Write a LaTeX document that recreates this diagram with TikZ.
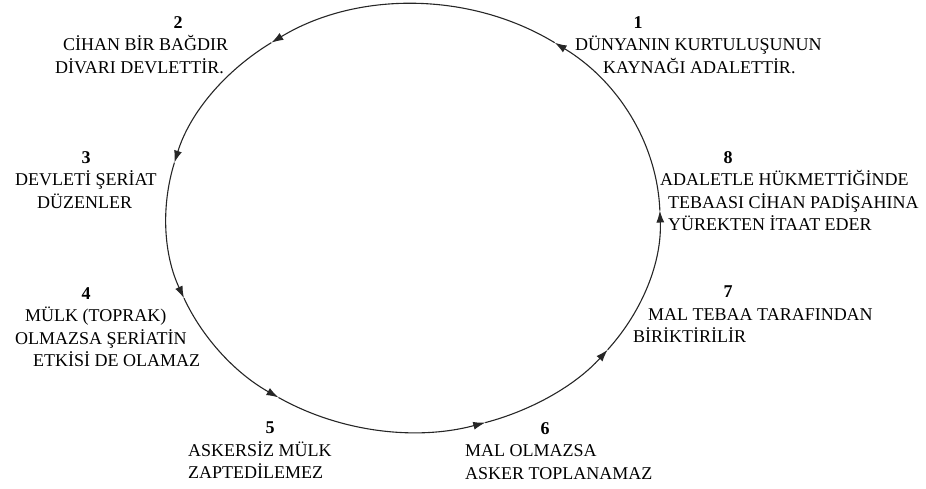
\documentclass[tikz,border=0pt]{standalone}
\usepackage{fontspec}
\setmainfont{Liberation Serif}
\usetikzlibrary{arrows.meta}

\begin{document}
\begin{tikzpicture}[x=1pt, y=1pt]
        \tikzstyle{madde} = [anchor=north west, align=left, inner sep=0pt, font=\fontsize{18}{22.5}\selectfont]
        \tikzstyle{devir} = [draw, line width=1.1pt, black!85, -{Latex[length=12pt, width=8pt]}]
        \useasboundingbox (0,0) rectangle (926,489);

        % cycle of justice
        \coordinate (c) at (413,271);
        \path (c) ++(2:247pt and 214pt) coordinate (a8);
        \path (c) ++(55:247pt and 214pt) coordinate (a1);
        \path (c) ++(125:247pt and 214pt) coordinate (a2);
        \path (c) ++(165:247pt and 214pt) coordinate (a3);
        \path (c) ++(202:247pt and 214pt) coordinate (a4);
        \path (c) ++(237:247pt and 214pt) coordinate (a5);
        \path (c) ++(287:247pt and 214pt) coordinate (a6);
        \path (c) ++(322:247pt and 214pt) coordinate (a7);

        \path [devir] (a8) arc[start angle=2, end angle=55, x radius=247pt, y radius=214pt];
        \path [devir] (a1) arc[start angle=55, end angle=125, x radius=247pt, y radius=214pt];
        \path [devir] (a2) arc[start angle=125, end angle=165, x radius=247pt, y radius=214pt];
        \path [devir] (a3) arc[start angle=165, end angle=202, x radius=247pt, y radius=214pt];
        \path [devir] (a4) arc[start angle=202, end angle=237, x radius=247pt, y radius=214pt];
        \path [devir] (a5) arc[start angle=237, end angle=287, x radius=247pt, y radius=214pt];
        \path [devir] (a6) arc[start angle=287, end angle=322, x radius=247pt, y radius=214pt];
        \path [devir] (a7) arc[start angle=322, end angle=362, x radius=247pt, y radius=214pt];

        % the eight sayings
        \node [madde] (m1) at (575,473) {\hspace*{58.5pt}\textbf{1}\\DÜNYANIN KURTULUŞUNUN\\\hspace*{28pt}KAYNAĞI ADALETTİR.};
        \node [madde] (m2) at (55,473) {\hspace*{118.5pt}\textbf{2}\\\hspace*{8pt}CİHAN BİR BAĞDIR\\DİVARI DEVLETTİR.};
        \node [madde] (m3) at (15,338) {\hspace*{66.5pt}\textbf{3}\\DEVLETİ ŞERİAT\\\hspace*{22pt}DÜZENLER};
        \node [madde] (m4) at (15,202) {\hspace*{66.5pt}\textbf{4}\\\hspace*{10pt}MÜLK (TOPRAK)\\OLMAZSA ŞERİATİN\\\hspace*{18pt}ETKİSİ DE OLAMAZ};
        \node [madde] (m5) at (188,67) {\hspace*{77.5pt}\textbf{5}\\ASKERSİZ MÜLK\\ZAPTEDİLEMEZ};
        \node [madde] (m6) at (465,67) {\hspace*{75.5pt}\textbf{6}\\MAL OLMAZSA\\ASKER TOPLANAMAZ};
        \node [madde] (m7) at (633,203) {\hspace*{90.5pt}\textbf{7}\\\hspace*{15pt}MAL TEBAA TARAFINDAN\\BİRİKTİRİLİR};
        \node [madde] (m8) at (660,338) {\hspace*{63.5pt}\textbf{8}\\ADALETLE HÜKMETTİĞİNDE\\\hspace*{8pt}TEBAASI CİHAN PADİŞAHINA\\\hspace*{8pt}YÜREKTEN İTAAT EDER};
\end{tikzpicture}
\end{document}
